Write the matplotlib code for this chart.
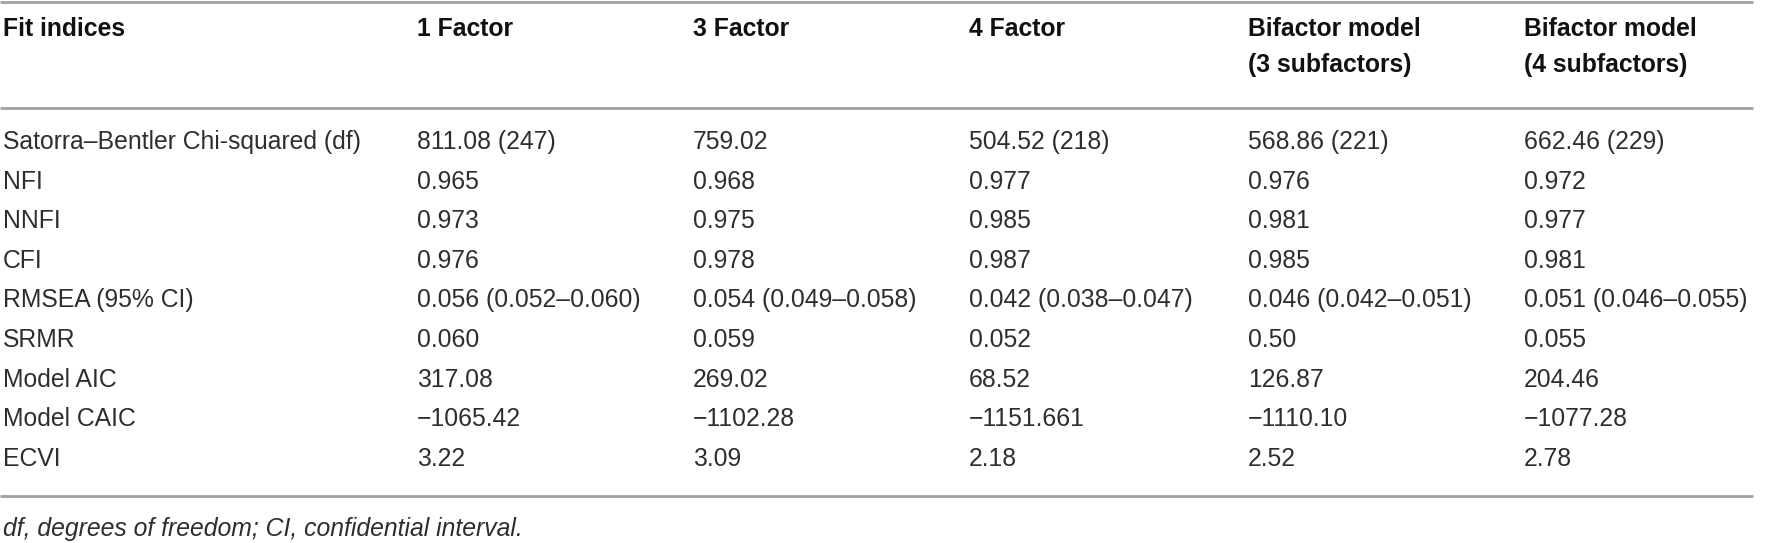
import matplotlib.pyplot as plt

plt.rcParams['font.family'] = ['Liberation Sans', 'DejaVu Sans']

# table content
col_heads = ["Fit indices", "1 Factor", "3 Factor", "4 Factor",
             "Bifactor model\n(3 subfactors)", "Bifactor model\n(4 subfactors)"]
row_labels = ["Satorra–Bentler Chi-squared (df)", "NFI", "NNFI", "CFI",
              "RMSEA (95% CI)", "SRMR", "Model AIC", "Model CAIC", "ECVI"]
one_factor = ["811.08 (247)", "0.965", "0.973", "0.976", "0.056 (0.052–0.060)",
              "0.060", "317.08", "−1065.42", "3.22"]
three_factor = ["759.02", "0.968", "0.975", "0.978", "0.054 (0.049–0.058)",
                "0.059", "269.02", "−1102.28", "3.09"]
four_factor = ["504.52 (218)", "0.977", "0.985", "0.987", "0.042 (0.038–0.047)",
               "0.052", "68.52", "−1151.661", "2.18"]
bifactor_3 = ["568.86 (221)", "0.976", "0.981", "0.985", "0.046 (0.042–0.051)",
              "0.50", "126.87", "−1110.10", "2.52"]
bifactor_4 = ["662.46 (229)", "0.972", "0.977", "0.981", "0.051 (0.046–0.055)",
              "0.055", "204.46", "−1077.28", "2.78"]
footnote = "df, degrees of freedom; CI, confidential interval."

W, H = 1784, 543
fig = plt.figure(figsize=(W / 100, H / 100), dpi=100)
ax = fig.add_axes([0, 0, 1, 1])
ax.set_xlim(0, W)
ax.set_ylim(H, 0)
ax.axis("off")

col_x = [3, 417, 693, 969, 1248, 1524]
fs = 17.8
txt_col = "#2e2e2e"
line_col = "#a0a0a0"

# rules
ax.hlines([1.5, 108, 496], 0, 1753, color=line_col, lw=2)

# header
for x, h in zip(col_x, col_heads):
    ax.text(x, 17, h, fontsize=fs, fontweight="bold", color="#111111",
            va="top", ha="left", linespacing=1.65)

# body
columns = [row_labels, one_factor, three_factor, four_factor, bifactor_3, bifactor_4]
row_y0, row_dy = 142, 39.6
for x, col in zip(col_x, columns):
    for i, val in enumerate(col):
        ax.text(x, row_y0 + i * row_dy, val, fontsize=fs, color=txt_col,
                va="center", ha="left")

ax.text(3, 529, footnote, fontsize=fs, style="italic", color=txt_col,
        va="center", ha="left")

fig.savefig("out.png", dpi=100)
